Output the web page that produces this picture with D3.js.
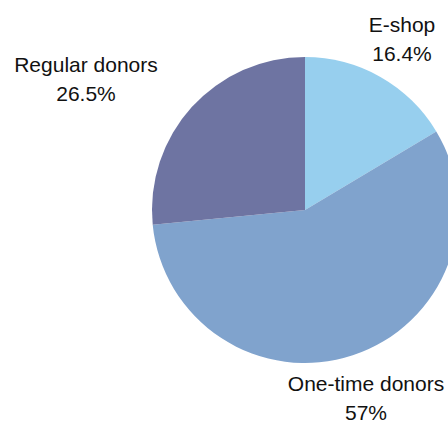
<!DOCTYPE html>
<html><head><meta charset="utf-8">
<script src="https://cdn.jsdelivr.net/npm/d3@7"></script>
<style>html,body{margin:0;padding:0;background:#fff;overflow:hidden}</style>
</head><body>
<svg id="c" width="448" height="422"></svg>
<script>
const categories = ["E-shop", "One-time donors", "Regular donors"];
const values = [16.4, 57, 26.5];
const valueLabels = ["16.4%", "57%", "26.5%"];
const colors = ["#97cfee", "#80a3cd", "#6e74a2"];
const labelPos = [[402, 32], [366, 391], [86, 72]];

const svg = d3.select("#c");
const cx = 305, cy = 210, r = 153;
const pie = d3.pie().sort(null).value(d => d)(values);
const arc = d3.arc().innerRadius(0).outerRadius(r);
const g = svg.append("g").attr("transform", `translate(${cx},${cy})`);
g.selectAll("path").data(pie).join("path")
  .attr("d", arc).attr("fill", (d, i) => colors[i]);

const lab = svg.append("g").attr("font-family", "Liberation Sans, Arial, sans-serif")
  .attr("font-size", 21).attr("fill", "#111").attr("text-anchor", "middle");
categories.forEach((c, i) => {
  lab.append("text").attr("x", labelPos[i][0]).attr("y", labelPos[i][1]).text(c);
  lab.append("text").attr("x", labelPos[i][0]).attr("y", labelPos[i][1] + 29).text(valueLabels[i]);
});
</script>
</body></html>
